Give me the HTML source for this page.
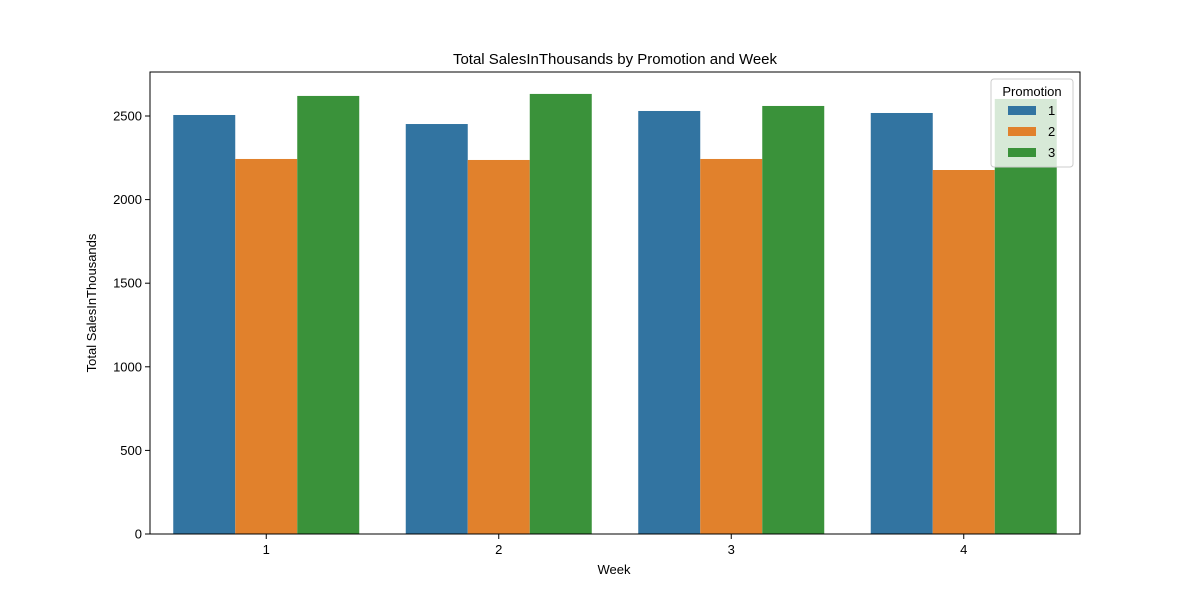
<!DOCTYPE html>
<html><head><meta charset="utf-8"><style>body{margin:0;background:#fff}svg{display:block;font-family:"Liberation Sans","DejaVu Sans",sans-serif}</style></head>
<body>
<svg id="chart" width="1200" height="600">
<text x="615" y="64" text-anchor="middle" font-size="15">Total SalesInThousands by Promotion and Week</text>
<g id="bars"></g>
<g id="axes"></g>
<rect x="150" y="72" width="930" height="462" fill="none" stroke="#000" stroke-width="1"/>
<text x="614" y="574" text-anchor="middle" font-size="13">Week</text>
<text transform="translate(96,303) rotate(-90)" text-anchor="middle" font-size="13">Total SalesInThousands</text>
<g id="legend">
<rect x="991" y="79" width="82" height="88" rx="3" fill="#fff" fill-opacity="0.8" stroke="#ccc"/>
<text x="1032" y="96" text-anchor="middle" font-size="13">Promotion</text>
</g>
</svg>
<script>
const weeks=["1","2","3","4"];
const promotions=["1","2","3"];
const promo1=[2506,2452,2530,2518];
const promo2=[2243,2237,2243,2177];
const promo3=[2620,2632,2560,2602];
const yTicks=[0,500,1000,1500,2000,2500];
const colors=["#3274a1","#e1812c","#3a923a"];
const series=[promo1,promo2,promo3];
const NS="http://www.w3.org/2000/svg";
const x0=150,x1=1080,yb=534,pxPer=0.1672;
const step=(x1-x0)/weeks.length,bw=step*0.8/3;
const y=v=>yb-v*pxPer;
const xc=i=>x0+step*(i+0.5);
function mk(t,a,p){const e=document.createElementNS(NS,t);for(const k in a)e.setAttribute(k,a[k]);p.appendChild(e);return e;}
const bars=document.getElementById('bars'),axes=document.getElementById('axes'),leg=document.getElementById('legend');
series.forEach((s,j)=>s.forEach((v,i)=>{
 const r=mk('rect',{x:xc(i)-1.5*bw+j*bw,y:y(v),width:bw,height:yb-y(v),fill:colors[j]},bars);
 
 
}));
yTicks.forEach(t=>{
 const l=mk('line',{x1:145,x2:150,y1:y(t),y2:y(t),stroke:'#000'},axes);
 
 
 const tx=mk('text',{x:142,y:y(t)+4.5,'text-anchor':'end','font-size':13},axes);tx.textContent=t;
 
 
});
weeks.forEach((w,i)=>{
 const l=mk('line',{x1:xc(i),x2:xc(i),y1:534,y2:539,stroke:'#000'},axes);
 
 
 const tx=mk('text',{x:xc(i),y:554,'text-anchor':'middle','font-size':13},axes);tx.textContent=w;
 
 
});
promotions.forEach((p,j)=>{
 const r=mk('rect',{x:1008,y:106+j*21,width:28,height:9,fill:colors[j]},leg);
 
 
 const tx=mk('text',{x:1048,y:115+j*21,'font-size':13},leg);tx.textContent=p;
 
 
});
</script>
</body></html>
